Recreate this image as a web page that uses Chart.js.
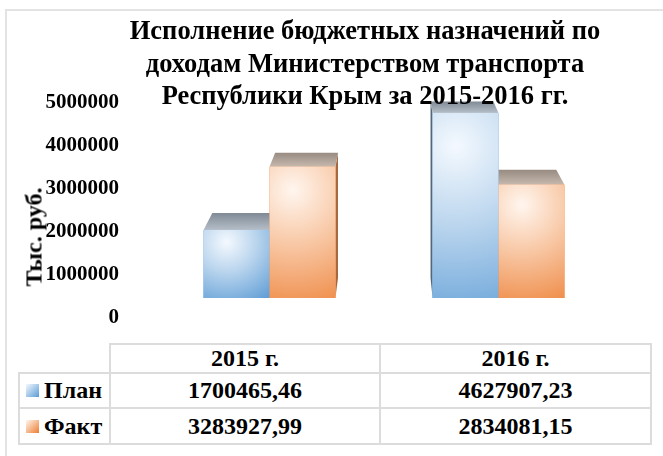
<!DOCTYPE html>
<html>
<head>
<meta charset="utf-8">
<script src="https://cdn.jsdelivr.net/npm/chart.js@4/dist/chart.umd.min.js"></script>
<style>
  body { margin: 0; background: #fff; }
  #wrap { position: relative; width: 663px; height: 456px; overflow: hidden; font-family: "Liberation Serif", "Times New Roman", serif; font-weight: bold; color: #000; }
  #frame { position: absolute; left: 5px; top: 9px; width: 720px; height: 520px; border: 2px solid #e3e3e3; box-sizing: border-box; }
  #chart { position: absolute; left: 0; top: 0; }
  #title { position: absolute; left: 65px; top: 14px; width: 600px; text-align: center; font-size: 26.5px; line-height: 32.5px; white-space: nowrap; }
  #yTitle { position: absolute; left: 34px; top: 237px; font-size: 24px; white-space: nowrap; transform: translate(-50%, -50%) rotate(-90deg); }
  #dataTable { position: absolute; left: 18px; top: 343px; border-collapse: collapse; table-layout: fixed; font-size: 24px; }
  #dataTable td { border: 2px solid #dcdcdc; text-align: center; padding: 0; }
  #dataTable td.corner { border-top: none; border-left: none; }
  #dataTable td.name { text-align: left; padding-left: 6px; white-space: nowrap; }
  .swatch { display: inline-block; width: 13px; height: 13px; margin-right: 5px; vertical-align: 1px; }
</style>
</head>
<body>
<div id="wrap">
  <div id="frame"></div>
  <canvas id="chart" width="663" height="340"></canvas>
  <div id="title">Исполнение бюджетных назначений по<br>доходам Министерством транспорта<br>Республики Крым за 2015-2016 гг.</div>
  <div id="yTitle">Тыс. руб.</div>
  <table id="dataTable"></table>
</div>
<script>
// Chart data
const categories = ['2015 г.', '2016 г.'];
const seriesNames = ['План', 'Факт'];
const planValues = [1700465.46, 4627907.23];
const factValues = [3283927.99, 2834081.15];
const yTickValues = [0, 1000000, 2000000, 3000000, 4000000, 5000000];

// Colours: front face [light, mid, base], top face [back, front], side face
const planColors = { front: ['#f4f9fe', '#bcd6ee', '#5b9bd5'], top: ['#7f8a96', '#b5bec8'], side: '#51677c' };
const factColors = { front: ['#fff6ef', '#f8c7a4', '#ed7d31'], top: ['#978b82', '#c6b8ad'], side: '#a8683f' };

// 3D look: back face is front face scaled toward a vanishing point
const vanish = { x: 390, y: -131, k: 0.953 };

function toBack(px, py) {
  return [vanish.x + vanish.k * (px - vanish.x), vanish.y + vanish.k * (py - vanish.y)];
}

function formatValue(v) {
  return v.toFixed(2).replace('.', ',');
}

// Build the data table under the chart
function buildTable() {
  const table = document.getElementById('dataTable');
  const widths = [91, 270, 271];
  const colgroup = document.createElement('colgroup');
  widths.forEach(w => {
    const col = document.createElement('col');
    col.style.width = w + 'px';
    colgroup.appendChild(col);
  });
  table.appendChild(colgroup);

  const head = document.createElement('tr');
  head.style.height = '29px';
  head.innerHTML = '<td class="corner"></td>' + categories.map(c => `<td>${c}</td>`).join('');
  table.appendChild(head);

  const rows = [
    { name: seriesNames[0], values: planValues, colors: planColors, h: 35 },
    { name: seriesNames[1], values: factValues, colors: factColors, h: 36 }
  ];
  rows.forEach(r => {
    const tr = document.createElement('tr');
    tr.style.height = r.h + 'px';
    const sw = `<span class="swatch" style="background: linear-gradient(135deg, ${r.colors.front[0]}, ${r.colors.front[2]})"></span>`;
    tr.innerHTML = `<td class="name">${sw}${r.name}</td>` + r.values.map(v => `<td>${formatValue(v)}</td>`).join('');
    table.appendChild(tr);
  });
}

// Plugin that adds top and side faces, then shades the front faces
const bars3d = {
  id: 'bars3d',
  beforeDatasetsDraw(chart) {
    const ctx = chart.ctx;
    chart.data.datasets.forEach((ds, di) => {
      const meta = chart.getDatasetMeta(di);
      const colors = di === 0 ? planColors : factColors;
      meta.data.forEach(bar => {
        const { x, y, base, width } = bar.getProps(['x', 'y', 'base', 'width'], true);
        const left = x - width / 2, right = x + width / 2;

        // side face
        const sx = right < vanish.x ? right : (left > vanish.x ? left : null);
        if (sx !== null) {
          const bt = toBack(sx, y), bb = toBack(sx, base);
          ctx.beginPath();
          ctx.moveTo(sx, y);
          ctx.lineTo(sx, base);
          ctx.lineTo(bb[0], bb[1]);
          ctx.lineTo(bt[0], bt[1]);
          ctx.closePath();
          ctx.fillStyle = colors.side;
          ctx.fill();
        }

        // top face
        const bl = toBack(left, y), br = toBack(right, y);
        const g = ctx.createLinearGradient(0, bl[1], 0, y);
        g.addColorStop(0, colors.top[0]);
        g.addColorStop(1, colors.top[1]);
        ctx.beginPath();
        ctx.moveTo(left, y);
        ctx.lineTo(right, y);
        ctx.lineTo(br[0], br[1]);
        ctx.lineTo(bl[0], bl[1]);
        ctx.closePath();
        ctx.fillStyle = g;
        ctx.fill();
      });
    });
  },
  afterDatasetsDraw(chart) {
    const ctx = chart.ctx;
    chart.data.datasets.forEach((ds, di) => {
      const meta = chart.getDatasetMeta(di);
      const colors = di === 0 ? planColors : factColors;
      meta.data.forEach(bar => {
        const { x, y, base, width } = bar.getProps(['x', 'y', 'base', 'width'], true);
        const h = base - y;
        const cx = x - width * 0.15, cy = y + Math.min(h * 0.18, 35);
        const g = ctx.createRadialGradient(cx, cy, 0, cx, cy, Math.max(width, h) * 1.05);
        g.addColorStop(0, colors.front[0]);
        g.addColorStop(0.4, colors.front[1]);
        g.addColorStop(1, colors.front[2]);
        ctx.fillStyle = g;
        ctx.fillRect(x - width / 2, y, width, h);
      });
    });
  }
};

buildTable();

const chart = new Chart(document.getElementById('chart').getContext('2d'), {
  type: 'bar',
  data: {
    labels: categories,
    datasets: [
      { label: seriesNames[0], data: planValues, backgroundColor: planColors.front[2], yAxisID: 'y' },
      { label: seriesNames[1], data: factValues, backgroundColor: factColors.front[2], yAxisID: 'y' }
    ]
  },
  options: {
    responsive: false,
    animation: false,
    categoryPercentage: 0.576,
    barPercentage: 1,
    layout: { padding: { left: 0, right: 50, top: 98, bottom: 22 } },
    plugins: {
      legend: { display: false },
      title: { display: false },
      tooltip: { enabled: false }
    },
    scales: {
      x: { display: false, offset: true },
      y: { display: false, min: -500000, max: 5000000 },
      y2: {
        type: 'linear',
        position: 'left',
        min: 0,
        max: 5116000,
        grid: { display: false, drawTicks: false },
        border: { display: false },
        ticks: {
          padding: 36,
          color: '#000',
          font: { family: 'Liberation Serif', size: 21, weight: 'bold' },
          callback: v => String(v)
        },
        afterBuildTicks: scale => { scale.ticks = yTickValues.map(v => ({ value: v })); },
        afterFit: scale => {
          scale.width = 155;
          scale.paddingTop = 0;
          scale.paddingBottom = 0;
        }
      }
    }
  },
  plugins: [bars3d]
});
</script>
</body>
</html>
